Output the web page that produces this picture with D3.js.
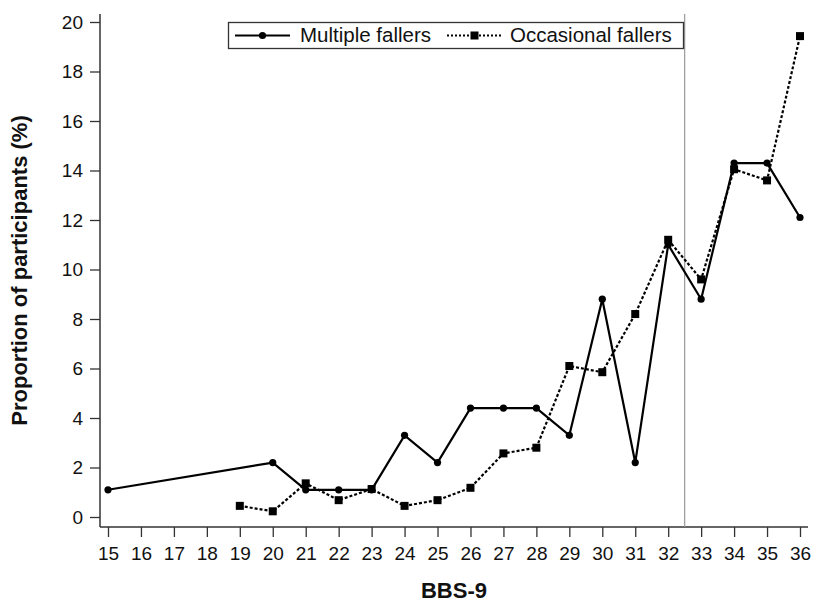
<!DOCTYPE html>
<html>
<head>
<meta charset="utf-8">
<script src="https://cdn.jsdelivr.net/npm/d3@7/dist/d3.min.js"></script>
<style>
  html, body { margin: 0; padding: 0; background: #fff; }
  svg { display: block; font-family: "Liberation Sans", Arial, sans-serif; }
</style>
</head>
<body>
<svg id="chart" width="813" height="603"></svg>
<script>
// BBS-9 scores and proportion of participants (%) per group
const bbsScores = [15, 16, 17, 18, 19, 20, 21, 22, 23, 24, 25, 26, 27, 28, 29, 30, 31, 32, 33, 34, 35, 36];
const multipleScores = [15, 20, 21, 22, 23, 24, 25, 26, 27, 28, 29, 30, 31, 32, 33, 34, 35, 36];
const multipleValues = [1.1, 2.2, 1.1, 1.1, 1.1, 3.3, 2.2, 4.4, 4.4, 4.4, 3.3, 8.8, 2.2, 11.0, 8.8, 14.3, 14.3, 12.1];
const occasionalScores = [19, 20, 21, 22, 23, 24, 25, 26, 27, 28, 29, 30, 31, 32, 33, 34, 35, 36];
const occasionalValues = [0.45, 0.23, 1.36, 0.68, 1.13, 0.45, 0.68, 1.18, 2.57, 2.8, 6.1, 5.85, 8.2, 11.2, 9.6, 14.05, 13.6, 19.43];
const yTicks = [0, 2, 4, 6, 8, 10, 12, 14, 16, 18, 20];
const cutoffScore = 32.5;
const seriesNames = ["Multiple fallers", "Occasional fallers"];

const svg = d3.select("#chart");
const x = d3.scaleLinear().domain([15, 36]).range([108, 800]);
const y = d3.scaleLinear().domain([0, 20]).range([517, 22]);

const axisColor = "#333";
const plotLeft = 100, plotBottom = 527, plotTop = 14, plotRight = 808;

// Y axis
const yAxis = svg.append("g")
  .attr("transform", `translate(${plotLeft},0)`)
  .call(d3.axisLeft(y).tickValues(yTicks).tickSize(10).tickPadding(7).tickSizeOuter(0));
yAxis.select(".domain").remove();
yAxis.selectAll(".tick line").attr("stroke", axisColor).attr("stroke-width", 1.3);
yAxis.selectAll(".tick text").attr("font-size", 19).attr("fill", "#111");

// X axis
const xAxis = svg.append("g")
  .attr("transform", `translate(0,${plotBottom})`)
  .call(d3.axisBottom(x).tickValues(bbsScores).tickFormat(d3.format("d")).tickSize(10).tickPadding(10).tickSizeOuter(0));
xAxis.select(".domain").remove();
xAxis.selectAll(".tick line").attr("stroke", axisColor).attr("stroke-width", 1.3);
xAxis.selectAll(".tick text").attr("font-size", 19).attr("fill", "#111");

// Axis lines
svg.append("line").attr("x1", plotLeft).attr("x2", plotLeft).attr("y1", plotTop).attr("y2", plotBottom)
  .attr("stroke", axisColor).attr("stroke-width", 1.5);
svg.append("line").attr("x1", plotLeft).attr("x2", plotRight).attr("y1", plotBottom).attr("y2", plotBottom)
  .attr("stroke", axisColor).attr("stroke-width", 1.5);

// Cut-off reference line
svg.append("line").attr("x1", x(cutoffScore)).attr("x2", x(cutoffScore)).attr("y1", plotTop).attr("y2", plotBottom)
  .attr("stroke", "#999").attr("stroke-width", 1.2);

// Axis titles
svg.append("text").attr("x", (plotLeft + plotRight) / 2).attr("y", 598)
  .attr("text-anchor", "middle").attr("font-size", 22).attr("font-weight", "bold").attr("fill", "#111")
  .text("BBS-9");
svg.append("text").attr("transform", `translate(27,${(plotTop + plotBottom) / 2}) rotate(-90)`)
  .attr("text-anchor", "middle").attr("font-size", 22).attr("font-weight", "bold").attr("fill", "#111")
  .text("Proportion of participants (%)");

const line = d3.line().x(d => x(d[0])).y(d => y(d[1]));
const occData = occasionalScores.map((s, i) => [s, occasionalValues[i]]);
const mulData = multipleScores.map((s, i) => [s, multipleValues[i]]);

// Occasional fallers: dotted line with squares
svg.append("path").datum(occData).attr("d", line)
  .attr("fill", "none").attr("stroke", "#000").attr("stroke-width", 2.2).attr("stroke-dasharray", "3,2");
svg.selectAll(".sq").data(occData).enter().append("rect")
  .attr("x", d => x(d[0]) - 4).attr("y", d => y(d[1]) - 4)
  .attr("width", 8).attr("height", 8).attr("fill", "#000");

// Multiple fallers: solid line with circles
svg.append("path").datum(mulData).attr("d", line)
  .attr("fill", "none").attr("stroke", "#000").attr("stroke-width", 2.2);
svg.selectAll(".dot").data(mulData).enter().append("circle")
  .attr("cx", d => x(d[0])).attr("cy", d => y(d[1])).attr("r", 3.6).attr("fill", "#000");

// Legend
const lg = svg.append("g");
lg.append("rect").attr("x", 228.5).attr("y", 22.5).attr("width", 455).attr("height", 26)
  .attr("fill", "#fff").attr("stroke", "#333").attr("stroke-width", 1.3);
lg.append("line").attr("x1", 235).attr("x2", 290).attr("y1", 35.5).attr("y2", 35.5)
  .attr("stroke", "#000").attr("stroke-width", 2.2);
lg.append("circle").attr("cx", 262.5).attr("cy", 35.5).attr("r", 3.6).attr("fill", "#000");
lg.append("text").attr("x", 300).attr("y", 42).attr("font-size", 20.5).attr("fill", "#111").text(seriesNames[0]);
lg.append("line").attr("x1", 447).attr("x2", 502).attr("y1", 35.5).attr("y2", 35.5)
  .attr("stroke", "#000").attr("stroke-width", 2).attr("stroke-dasharray", "2,2");
lg.append("rect").attr("x", 470.5).attr("y", 31.5).attr("width", 8).attr("height", 8).attr("fill", "#000");
lg.append("text").attr("x", 510).attr("y", 42).attr("font-size", 20.5).attr("fill", "#111").text(seriesNames[1]);
</script>
</body>
</html>
